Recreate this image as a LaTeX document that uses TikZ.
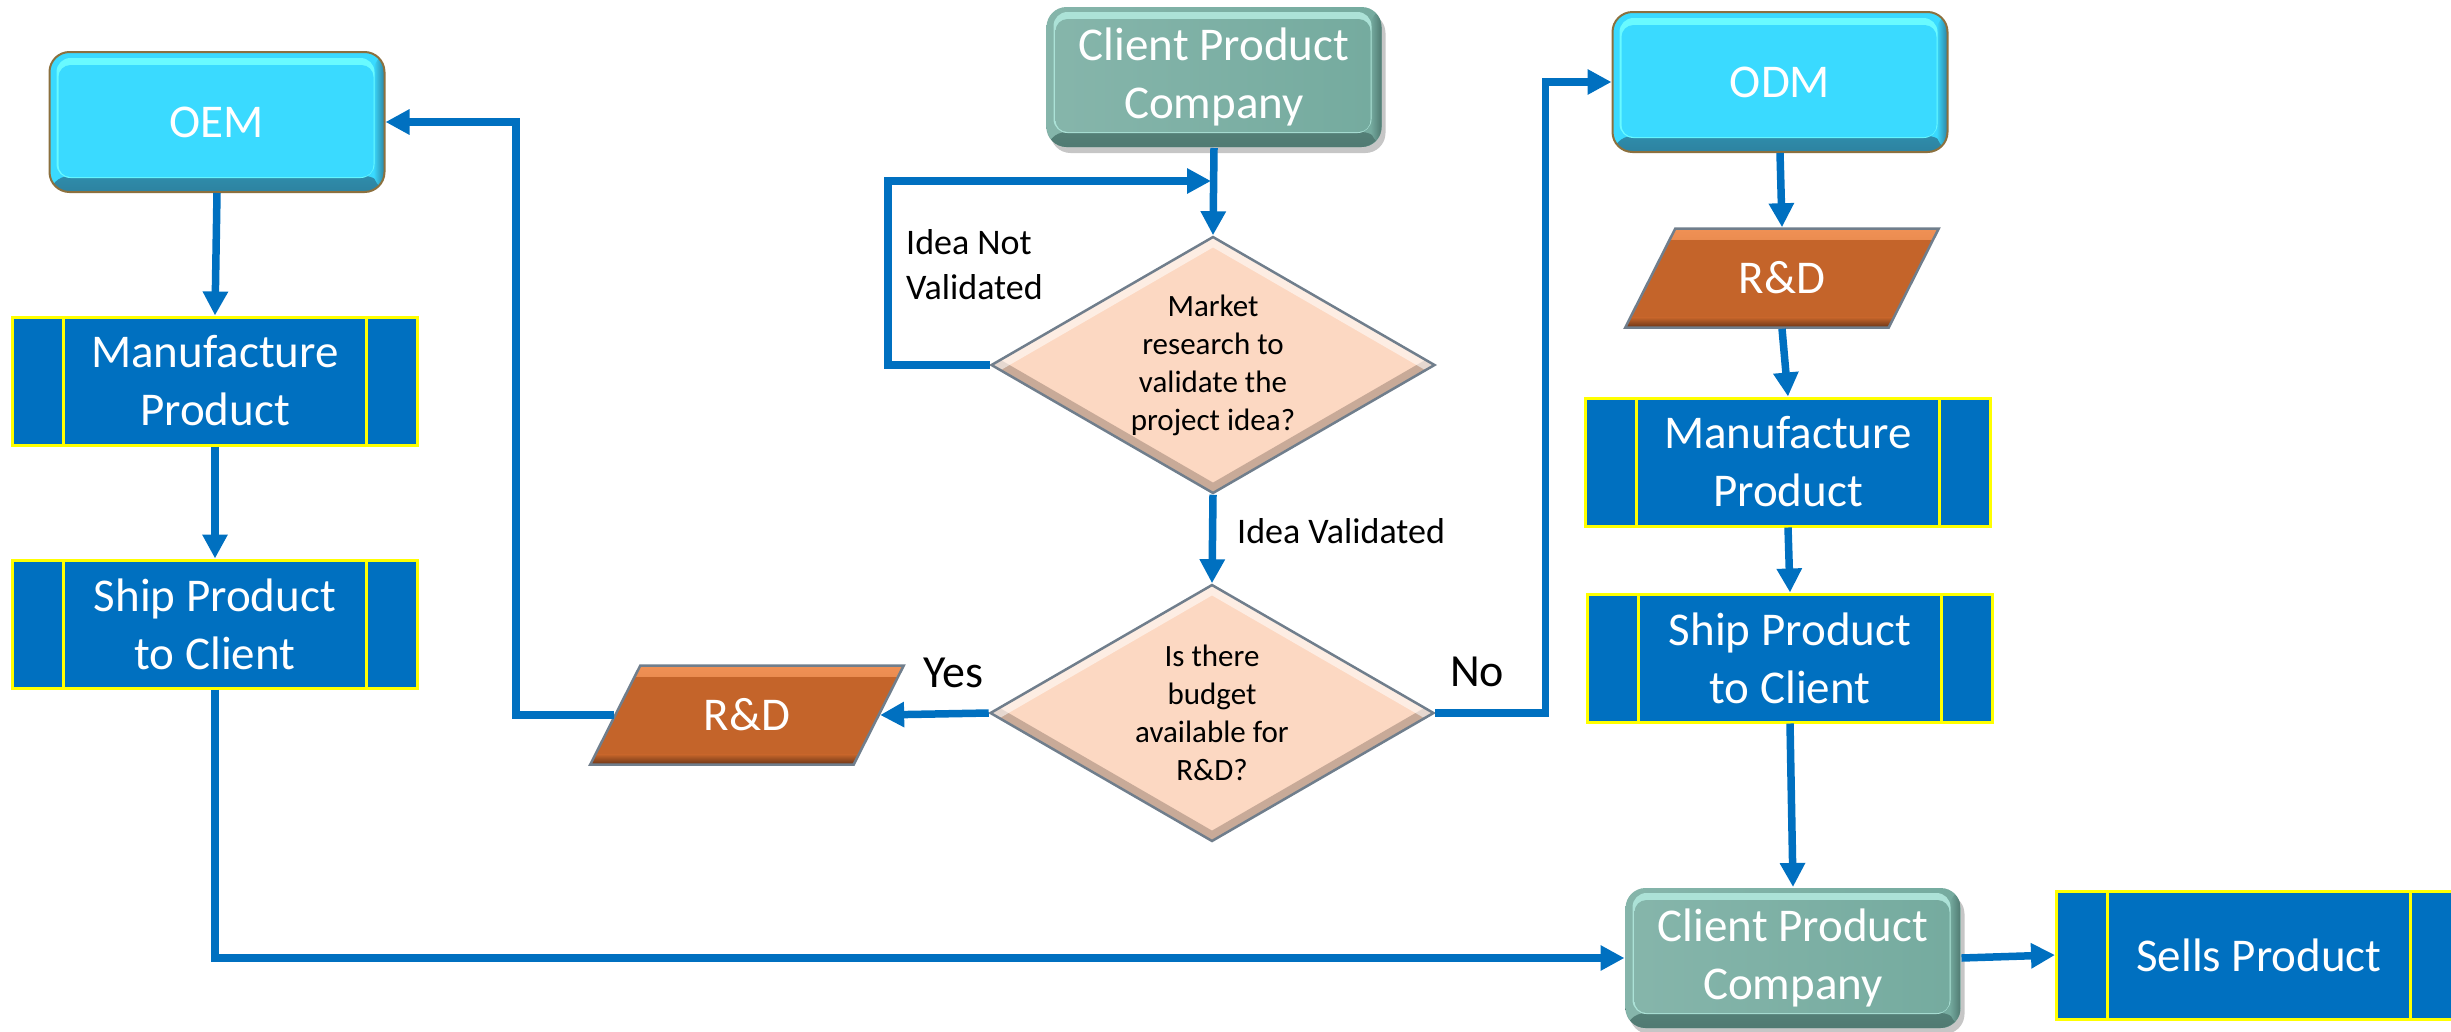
\documentclass[tikz,border=0pt]{standalone}
\usepackage{fontspec}
\setmainfont{Carlito}
\usetikzlibrary{arrows.meta,shapes.geometric,shadows,calc}
\definecolor{cyanc}{RGB}{58,218,255}
\definecolor{cyanlt}{RGB}{105,250,255}
\definecolor{cyandk}{RGB}{45,130,160}
\definecolor{brownc}{RGB}{140,112,62}
\definecolor{tealc}{RGB}{117,171,159}
\definecolor{teallt}{RGB}{172,226,215}
\definecolor{tealdk}{RGB}{80,122,114}
\definecolor{peachc}{RGB}{252,216,194}
\definecolor{peachdk}{RGB}{150,125,112}
\definecolor{bordgray}{RGB}{112,126,140}
\definecolor{orangec}{RGB}{196,100,42}
\definecolor{orangelt}{RGB}{240,145,85}
\definecolor{orangedk}{RGB}{105,52,22}
\definecolor{bluec}{RGB}{0,112,192}
\definecolor{linec}{RGB}{0,112,192}
\definecolor{yellowc}{RGB}{255,255,0}
\tikzset{
  nodetext/.style={text=white, align=center, font=\fontsize{47}{58}\selectfont},
  rbox/.style={nodetext, rectangle, rounded corners=20pt, minimum width=335pt, minimum height=140pt, inner sep=0pt, line width=2pt},
  cyanbox/.style={rbox, fill=cyanc, draw=brownc, path picture={
      \shade[top color=cyanc, bottom color=cyandk] ([yshift=16pt]path picture bounding box.south west) rectangle (path picture bounding box.south east);
      \shade[left color=cyanc, right color=cyandk] ([xshift=-11pt]path picture bounding box.north east) rectangle (path picture bounding box.south east);
      \fill[cyanlt, rounded corners=14pt] ([xshift=7pt,yshift=-6pt]path picture bounding box.north west) rectangle ([xshift=-10pt,yshift=14pt]path picture bounding box.south east);
      \fill[cyanc, rounded corners=12pt] ([xshift=9pt,yshift=-13pt]path picture bounding box.north west) rectangle ([xshift=-11pt,yshift=15pt]path picture bounding box.south east);
    }},
  tealbox/.style={rbox, draw=none, left color=tealc!88!white, right color=tealc, drop shadow={shadow xshift=4pt, shadow yshift=-6pt, opacity=0.45}, path picture={
      \shade[top color=tealc, bottom color=tealdk] ([yshift=15pt]path picture bounding box.south west) rectangle (path picture bounding box.south east);
      \shade[left color=tealc, right color=tealdk] ([xshift=-11pt]path picture bounding box.north east) rectangle (path picture bounding box.south east);
      \fill[teallt, rounded corners=14pt] ([xshift=7pt,yshift=-5pt]path picture bounding box.north west) rectangle ([xshift=-10pt,yshift=14pt]path picture bounding box.south east);
      \shade[left color=tealc!88!white, right color=tealc, rounded corners=12pt] ([xshift=9pt,yshift=-12pt]path picture bounding box.north west) rectangle ([xshift=-11pt,yshift=15pt]path picture bounding box.south east);
    }},
  procbox/.style={nodetext, rectangle, fill=bluec, draw=yellowc, line width=3pt, minimum width=405pt, minimum height=128pt, inner sep=0pt, path picture={
      \draw[yellowc, line width=2.5pt] ([xshift=51pt]path picture bounding box.north west) -- ([xshift=51pt]path picture bounding box.south west);
      \draw[yellowc, line width=2.5pt] ([xshift=-51pt]path picture bounding box.north east) -- ([xshift=-51pt]path picture bounding box.south east);
    }},
  decbox/.style={diamond, fill=peachc, draw=bordgray, line width=2.5pt, minimum width=444pt, minimum height=257pt, inner sep=0pt, shape aspect=1.72, align=center, text=black, font=\fontsize{31}{38}\selectfont, path picture={
      \draw[peachdk, line width=18pt, opacity=0.5, line join=miter] (path picture bounding box.west) -- (path picture bounding box.south) -- (path picture bounding box.east);
      \draw[white, line width=18pt, opacity=0.55, line join=miter] (path picture bounding box.west) -- (path picture bounding box.north) -- (path picture bounding box.east);
    }},
  iobox/.style={nodetext, trapezium, trapezium left angle=58, trapezium right angle=122, trapezium stretches=true, minimum width=314pt, minimum height=99pt, inner sep=0pt, fill=orangec, draw=bordgray, line width=2.5pt, path picture={
      \shade[top color=orangelt, bottom color=orangec] (path picture bounding box.north west) rectangle ([yshift=-11pt]path picture bounding box.north east);
      \shade[top color=orangec, bottom color=orangedk] ([yshift=10pt]path picture bounding box.south west) rectangle (path picture bounding box.south east);
    }},
  arr/.style={draw=linec, line width=7.5pt, -{Triangle[length=24pt,width=24pt]}},
  lbl/.style={text=black, inner sep=0pt, font=\fontsize{36}{45}\selectfont},
  bigl/.style={text=black, inner sep=0pt, font=\fontsize{46}{56}\selectfont},
}
\begin{document}
\begin{tikzpicture}[x=1pt,y=-1pt]
\useasboundingbox (0,0) rectangle (2451,1031);
% nodes
\node[cyanbox] (oem) at (217,122) {OEM};
\node[procbox] (manl) at (215,381) {Manufacture\\Product};
\node[procbox] (shipl) at (215,624) {Ship Product\\to Client};
\node[iobox] (rdl) at (747,715) {R\&D};
\node[tealbox] (cpca) at (1214,77) {Client Product\\Company};
\node[decbox] (da) at (1213,365) {Market\\research to\\validate the\\project idea?};
\node[decbox] (db) at (1212,713) {Is there\\budget\\available for\\R\&D?};
\node[cyanbox] (odm) at (1780,82) {ODM};
\node[iobox] (rdr) at (1782,278) {R\&D};
\node[procbox] (manr) at (1788,462) {Manufacture\\Product};
\node[procbox] (shipr) at (1790,658) {Ship Product\\to Client};
\node[tealbox] (cpcb) at (1793,958) {Client Product\\Company};
\node[procbox] (sells) at (2259,955) {Sells Product};
% labels
\node[lbl, anchor=west, align=left] (lnot) at (906,265) {Idea Not\\Validated};
\node[lbl, anchor=west] (lval) at (1237,531) {Idea Validated};
\node[bigl] (lyes) at (953,673) {Yes};
\node[bigl] (lno) at (1477,672) {No};
\coordinate (loopend) at (1211,181);
% connectors
\draw[arr] (oem.south) -- (manl.north);
\draw[arr] (manl.south) -- (shipl.north);
\draw[arr] (shipl.south) |- (cpcb.west);
\draw[arr] (rdl.west) -- ++(-98,0) |- (oem.east);
\draw[arr] (db.west) -- (rdl.east);
\draw[arr] (db.east) -- ++(110,0) |- (odm.west);
\draw[arr] (cpca.south) -- (da.north);
\draw[arr] (da.west) -- ++(-102,0) |- (loopend);
\draw[arr] (da.south) -- (db.north);
\draw[arr] (odm.south) -- (rdr.north);
\draw[arr] (rdr.south) -- (manr.north);
\draw[arr] (manr.south) -- (shipr.north);
\draw[arr] (shipr.south) -- (cpcb.north);
\draw[arr] (cpcb.east) -- (sells.west);
\end{tikzpicture}
\end{document}
